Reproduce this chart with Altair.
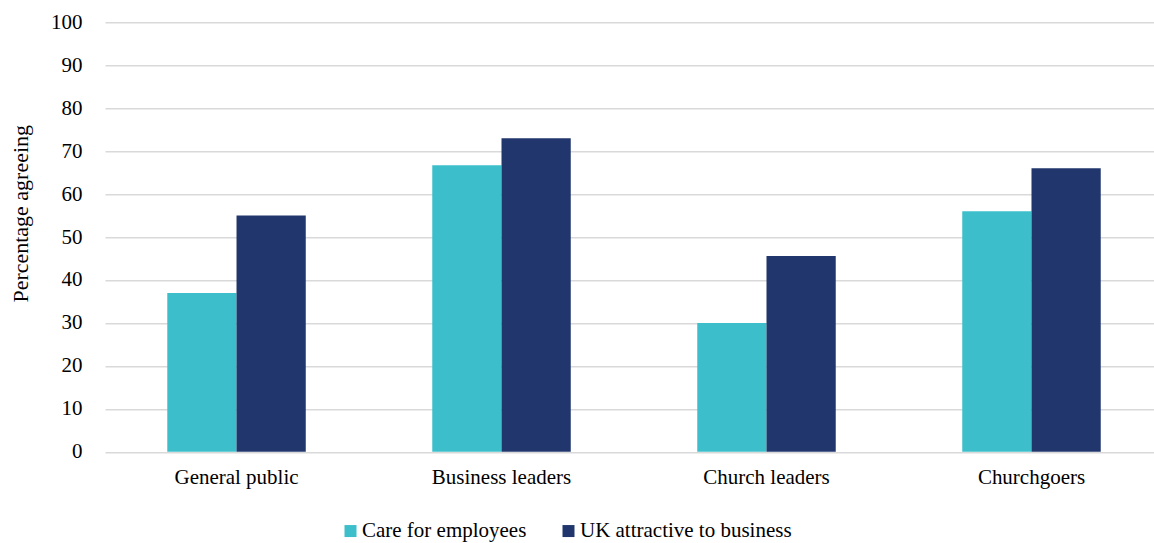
import altair as alt
import pandas as pd

categories = ["General public", "Business leaders", "Church leaders", "Churchgoers"]
series = ["Care for employees", "UK attractive to business"]
care_for_employees = [37, 66.7, 30, 56]
uk_attractive = [55, 73, 45.6, 66]
colors = ["#3DBFCB", "#21366D"]

rows = []
for c, v in zip(categories, care_for_employees):
    rows.append({"group": c, "series": series[0], "value": v})
for c, v in zip(categories, uk_attractive):
    rows.append({"group": c, "series": series[1], "value": v})
df = pd.DataFrame(rows)

FONT = "Liberation Serif"

chart = alt.Chart(df).mark_bar().encode(
    x=alt.X("group:N", sort=categories,
            scale=alt.Scale(paddingInner=0.4774, paddingOuter=0.218, align=0.539),
            axis=alt.Axis(title=None, labelAngle=0, ticks=False, domain=False, grid=False,
                          labelPadding=15, labelFontSize=21, labelFont=FONT,
                          labelColor="#000000")),
    xOffset=alt.XOffset("series:N", sort=series, scale=alt.Scale(paddingInner=0, paddingOuter=0)),
    y=alt.Y("value:Q", scale=alt.Scale(domain=[0, 100], nice=False),
            axis=alt.Axis(values=list(range(0, 101, 10)), title="Percentage agreeing",
                          ticks=False, domain=False, labelPadding=23,
                          labelFontSize=21, labelFont=FONT, labelColor="#000000",
                          titleFont=FONT, titleFontSize=22, titleFontWeight="normal",
                          titleColor="#000000", titleX=-85, titleY=191,
                          titleAngle=270, titleAlign="center", titleBaseline="middle",
                          grid=True, gridColor="#D9D9D9", gridWidth=1.5)),
    color=alt.Color("series:N", sort=series,
                    scale=alt.Scale(domain=series, range=colors),
                    legend=alt.Legend(title=None, orient="none", direction="horizontal",
                                      legendX=235, legendY=498,
                                      symbolType="square", symbolSize=144,
                                      symbolStrokeWidth=0, symbolOpacity=1,
                                      labelFont=FONT, labelFontSize=21,
                                      labelColor="#000000", labelOffset=1,
                                      columnPadding=31, labelLimit=400)),
).properties(
    width=1049, height=429.5,
    padding={"left": 105, "top": 22.3, "right": 0, "bottom": 91},
    autosize=alt.AutoSizeParams(type="none"),
).configure(background="white", font=FONT
).configure_view(strokeWidth=0, stroke="transparent"
).configure_legend(labelFont=FONT, labelFontSize=21)

chart.save("out.html", embed_options={"renderer": "svg", "actions": False})
